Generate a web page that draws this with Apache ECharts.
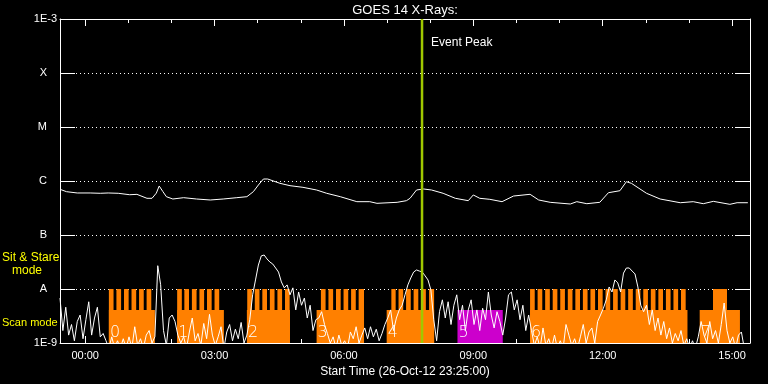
<!DOCTYPE html>
<html><head><meta charset="utf-8">
<script src="https://cdn.jsdelivr.net/npm/echarts@6/dist/echarts.min.js"></script>
<style>html,body{margin:0;padding:0;background:#000;}#c{width:768px;height:384px;}</style>
</head><body><div id="c"></div>
<script>
// Time in minutes relative to 27-Oct-12 00:00 (plot starts 26-Oct-12 23:25:00)
const xStart = -35, xEnd = 925;
const timeLabelTicks = [0, 180, 360, 540, 720, 900];
const hourTicks = [60, 120, 240, 300, 420, 480, 600, 660, 780, 840];
// Flux levels in nW m^-2 (1 nW = 1E-9 W m^-2)
const yLevels = [1, 10, 100, 1000, 10000, 100000, 1000000];
const yLevelNames = ['1E-9', 'A', 'B', 'C', 'M', 'X', '1E-3'];

// GOES 14 long channel (1-8 A), [minute, nW m^-2]
const longChannel = [[-35,702],[-26,634],[-11,600],[7,600],[21,592],[32,600],[46,592],[62,557],[72,566],[86,478],[93,478],[99,596],[103,808],[108,640],[113,512],[122,464],[137,491],[155,464],[174,445],[192,464],[211,491],[225,512],[234,634],[241,843],[248,1089],[254,1089],[271,906],[285,819],[303,764],[322,681],[336,592],[355,512],[378,414],[396,414],[406,386],[434,403],[447,432],[452,478],[461,681],[471,711],[482,681],[498,592],[515,478],[533,432],[540,551],[549,478],[563,458],[580,414],[596,527],[619,567],[631,445],[647,403],[675,375],[684,414],[698,380],[716,403],[728,607],[744,661],[753,971],[760,906],[781,592],[800,464],[828,396],[846,414],[860,380],[874,420],[897,370],[907,396],[922,396]];

// GOES 14 short channel (0.5-4 A), nW m^-2, 4-minute cadence from -35 min
const shortStart = -35, shortStep = 4;
const shortChannel = [
6.8,1.7,4.6,1.4,2.2,1.1,2.5,3.3,1.2,2.7,5.8,1.4,2.9,4.6,1.3,1.5,1.1,
0.8,1.3,0.8,1.1,0.8,1.2,0.8,1.3,0.8,2.0,0.9,1.2,0.8,1.4,1.7,1.0,1.3,
27,12,1.7,0.9,2.9,3.3,2.5,1.4,
1.0,1.3,0.8,1.6,2.9,1.1,1.5,0.9,2.3,1.2,3.4,1.4,0.9,1.3,2.0,0.8,
1.6,2.2,1.1,1.8,1.2,2.4,1.0,
1.4,2.7,7.8,14.7,27.8,41,42.6,36,31.6,29,24.5,20.6,13.5,10.5,11.9,7.8,10.5,4.1,8.8,5.0,6.8,2.9,5.0,1.7,2.7,
2.9,3.8,2.2,1.5,1.0,1.3,0.8,1.4,0.9,1.1,0.8,1.6,1.2,2.0,1.0,1.4,
1.9,1.2,2.0,1.3,1.8,1.1,1.5,2.2,
2.9,4.1,1.7,2.9,4.1,5.0,7.8,11.9,16,20.6,22.5,21.5,20.6,17.5,14.7,9.6,2.7,1.1,3.8,6.3,2.9,5.8,2.2,5.0,
7.8,2.7,5.0,1.7,4.1,6.3,2.2,4.1,1.7,4.4,2.7,8.8,3.3,1.9,3.8,2.5,1.4,
2.9,7.8,8.8,4.1,6.3,2.7,5.0,1.7,3.3,
1.7,0.9,1.3,0.8,1.9,0.9,1.2,0.8,1.4,0.8,1.1,0.8,2.2,1.4,0.9,1.2,0.8,1.3,2.2,1.0,1.6,1.9,1.0,2.5,
3.3,4.4,6.3,10.9,8.8,14.7,13,8.8,19.7,24.5,24.5,21.5,19,10.9,5.0,3.8,5.0,2.2,4.1,1.7,2.9,1.4,2.5,1.2,1.9,1.0,1.5,1.1,1.7,0.9,1.2,
0.8,1.1,0.8,1.3,2.5,1.4,1.0,2.5,1.2,1.7,1.0,2.2,5.5,1.7,1.0,1.3,0.8,1.4,1.6,0.8,0.8,0.8
];

// Observation blocks [start, end] in minutes
const scanBlocks = [[33,97],[128,193],[225,285],[322,388],[419.5,485.5],[619,838],[855,911]];
const scanIds = ['0','1','2','3','4','6','7'];
const sitStareTeeth = [
[33,39.5],[43.5,50],[54,60.5],[64.5,71],[75,81.5],[85.5,92],
[128,134.5],[138,144.5],[148.5,155],[159,165.5],[169.5,176],[180,186.5],
[225.5,232],[236,242.5],[246.5,253],[257,263.5],[267.5,274],[278,284.5],
[328,334.5],[338.5,345],[349,355.5],[359.5,366],[370,376.5],[380.5,388],
[426,432],[436,442.5],[446.5,453],[457,463.5],[467.5,474],[478.5,485.5],
[619,625.5],[629.5,636],[640,646.5],[650.5,657],[661,667.5],[671.5,678],[682,688.5],[692.5,699],[703,709.5],[713.5,720],[724,730.5],[734.5,741],[745,751.5],[755.5,762],[766,772.5],[776.5,783],[787,793.5],[797.5,804],[808,814.5],[818.5,825],[829,835.5],
[873.5,893]
];
const otherBlocks = [[518,581]];
const otherIds = ['5'];
const scanLevel = 4.08;      // nW m^-2 top of scan-mode bars
const sitStareLevel = 10;    // nW m^-2 top of sit & stare bars (A level)
const eventPeak = 468.7;     // minutes (07:48:42)

const chart = echarts.init(document.getElementById('c'), null, {renderer: 'canvas'});
const FONT = 'Liberation Sans';
const WHITE = '#ffffff';

function fmtTime(v) {
  const m = ((Math.round(v) % 1440) + 1440) % 1440;
  const h = Math.floor(m / 60), mm = m % 60;
  return (h < 10 ? '0' : '') + h + ':' + (mm < 10 ? '0' : '') + mm;
}

function rectItem(color) {
  return function (params, api) {
    const p0 = api.coord([api.value(0), api.value(2)]);
    const p1 = api.coord([api.value(1), yLevels[0]]);
    return {type: 'rect', shape: {x: p0[0], y: p0[1], width: p1[0] - p0[0], height: p1[1] - p0[1]},
      style: {fill: color}};
  };
}

function digitItem(params, api) {
  const p = api.coord([api.value(0), yLevels[0]]);
  return {type: 'text', x: p[0] + 1, y: p[1] - 2,
    style: {text: api.value(1) + '', fill: WHITE, font: '200 16px "DejaVu Sans"', align: 'left', verticalAlign: 'bottom'}};
}

function eventItem(params, api) {
  const top = api.coord([api.value(0), yLevels[yLevels.length - 1]]);
  const bot = api.coord([api.value(0), yLevels[0]]);
  return {type: 'group', children: [
    {type: 'line', shape: {x1: top[0], y1: top[1], x2: bot[0], y2: bot[1]}, style: {stroke: '#a0c800', lineWidth: 2.5}},
    {type: 'text', x: top[0] + 9, y: top[1] + 24,
      style: {text: 'Event Peak', fill: WHITE, font: '12px "' + FONT + '"', align: 'left', verticalAlign: 'middle'}}
  ]};
}

const xBase = {type: 'value', min: xStart, max: xEnd, splitLine: {show: false}};
const yBase = {type: 'log', logBase: 10, min: yLevels[0], max: yLevels[yLevels.length - 1], splitNumber: 6};

const option = {
  backgroundColor: '#000000',
  animation: false,
  grid: {left: 60, right: 18, top: 19, bottom: 41, containLabel: false},
  graphic: [
    {type: 'text', x: 405, y: 10, style: {text: 'GOES 14 X-Rays:', fill: WHITE, font: '13px "' + FONT + '"', align: 'center', verticalAlign: 'middle'}},
    {type: 'text', x: 2, y: 258, style: {text: 'Sit & Stare', fill: '#ffff00', font: '12px "' + FONT + '"', align: 'left', verticalAlign: 'middle'}},
    {type: 'text', x: 12, y: 271, style: {text: 'mode', fill: '#ffff00', font: '12px "' + FONT + '"', align: 'left', verticalAlign: 'middle'}},
    {type: 'text', x: 2, y: 323, style: {text: 'Scan mode', fill: '#ffff00', font: '11px "' + FONT + '"', align: 'left', verticalAlign: 'middle'}}
  ],
  xAxis: [
    Object.assign({}, xBase, {position: 'bottom',
      name: 'Start Time (26-Oct-12 23:25:00)', nameLocation: 'middle', nameGap: 17,
      nameTextStyle: {color: WHITE, fontFamily: FONT, fontSize: 12},
      axisLine: {show: true, onZero: false, lineStyle: {color: WHITE, width: 1}},
      axisTick: {show: true, inside: true, length: 7, customValues: timeLabelTicks, lineStyle: {color: WHITE}},
      axisLabel: {show: true, customValues: timeLabelTicks, formatter: fmtTime, color: WHITE, fontFamily: FONT, fontSize: 11, margin: 7}}),
    Object.assign({}, xBase, {position: 'bottom',
      axisLine: {show: false, onZero: false},
      axisTick: {show: true, inside: true, length: 4, customValues: hourTicks, lineStyle: {color: WHITE}},
      axisLabel: {show: false}}),
    Object.assign({}, xBase, {position: 'top',
      axisLine: {show: true, onZero: false, lineStyle: {color: WHITE, width: 1}},
      axisTick: {show: true, inside: true, length: 7, customValues: timeLabelTicks, lineStyle: {color: WHITE}},
      axisLabel: {show: false}}),
    Object.assign({}, xBase, {position: 'top',
      axisLine: {show: false, onZero: false},
      axisTick: {show: true, inside: true, length: 4, customValues: hourTicks, lineStyle: {color: WHITE}},
      axisLabel: {show: false}})
  ],
  yAxis: [
    Object.assign({}, yBase, {position: 'left',
      axisLine: {show: true, onZero: false, lineStyle: {color: WHITE, width: 1}},
      axisTick: {show: true, inside: true, length: 15, lineStyle: {color: WHITE}},
      splitLine: {show: true, lineStyle: {color: WHITE, width: 1, type: [1, 3]}},
      axisLabel: {show: true, margin: 3, color: WHITE, fontFamily: FONT, fontSize: 11,
        formatter: function (v) {
          const k = Math.round(Math.log10(v));
          const name = yLevelNames[k] || '';
          return name.length > 1 ? '{e|' + name + '}' : '{l|' + name + '}';
        },
        rich: {e: {color: WHITE, fontFamily: FONT, fontSize: 11},
               l: {color: WHITE, fontFamily: FONT, fontSize: 11, padding: [0, 10, 0, 0]}}}}),
    Object.assign({}, yBase, {position: 'right',
      axisLine: {show: true, onZero: false, lineStyle: {color: WHITE, width: 1}},
      axisTick: {show: true, inside: true, length: 15, lineStyle: {color: WHITE}},
      splitLine: {show: false},
      axisLabel: {show: false}})
  ],
  series: [
    {type: 'custom', name: 'scan', xAxisIndex: 0, yAxisIndex: 0, z: 1, silent: true,
      renderItem: rectItem('#ff8000'), encode: {x: [0, 1], y: 2},
      data: scanBlocks.map(b => [b[0], b[1], scanLevel])},
    {type: 'custom', name: 'sitstare', xAxisIndex: 0, yAxisIndex: 0, z: 1, silent: true,
      renderItem: rectItem('#ff8000'), encode: {x: [0, 1], y: 2},
      data: sitStareTeeth.map(b => [b[0], b[1], sitStareLevel])},
    {type: 'custom', name: 'other', xAxisIndex: 0, yAxisIndex: 0, z: 1, silent: true,
      renderItem: rectItem('#cc00cc'), encode: {x: [0, 1], y: 2},
      data: otherBlocks.map(b => [b[0], b[1], scanLevel])},
    {type: 'custom', name: 'ids', xAxisIndex: 0, yAxisIndex: 0, z: 2, silent: true,
      renderItem: digitItem, encode: {x: 0},
      data: scanBlocks.map((b, i) => [b[0], scanIds[i]]).concat(otherBlocks.map((b, i) => [b[0], otherIds[i]]))},
    {type: 'line', name: 'long', xAxisIndex: 0, yAxisIndex: 0, z: 3, silent: true,
      showSymbol: false, symbol: 'none', lineStyle: {color: WHITE, width: 1}, clip: true,
      data: longChannel},
    {type: 'line', name: 'short', xAxisIndex: 0, yAxisIndex: 0, z: 3, silent: true,
      showSymbol: false, symbol: 'none', lineStyle: {color: WHITE, width: 1}, clip: true,
      data: shortChannel.map((v, i) => [shortStart + i * shortStep, v])},
    {type: 'custom', name: 'event', xAxisIndex: 0, yAxisIndex: 0, z: 4, silent: true,
      renderItem: eventItem, encode: {x: 0}, data: [[eventPeak]]}
  ]
};
chart.setOption(option);
</script>
</body></html>
